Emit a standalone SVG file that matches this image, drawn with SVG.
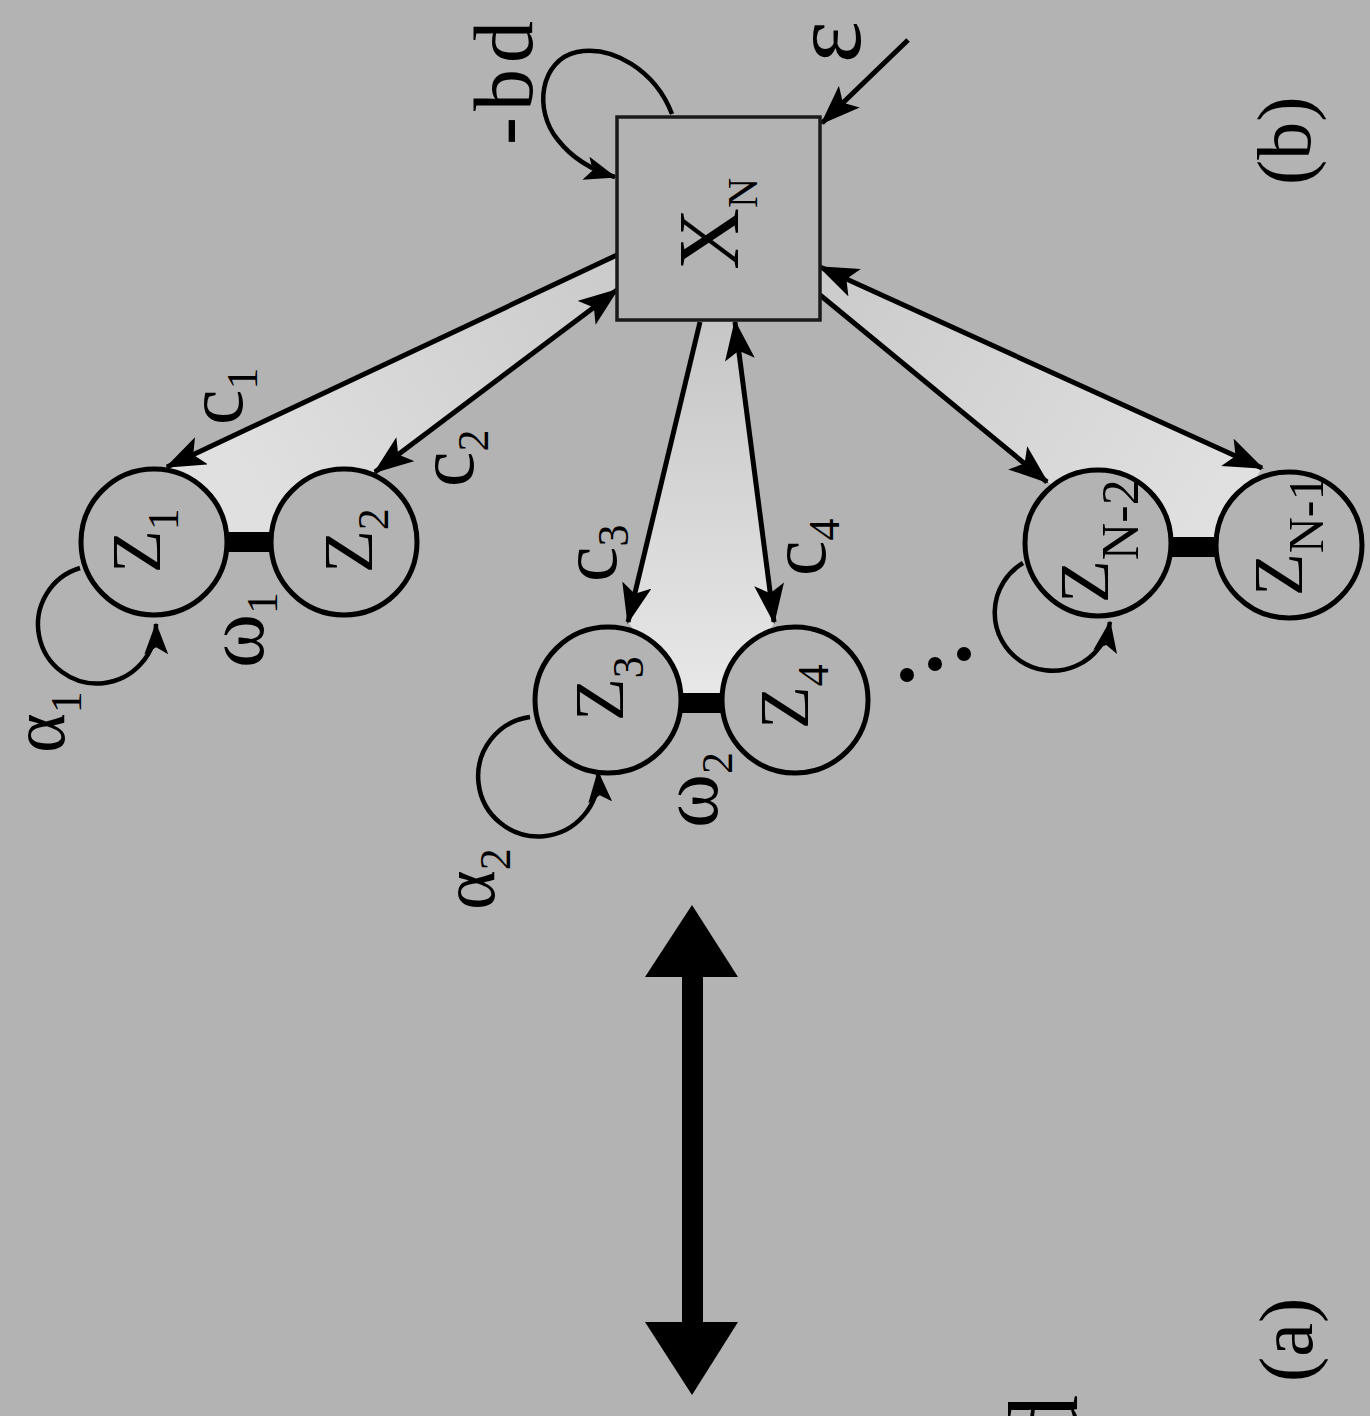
<svg xmlns="http://www.w3.org/2000/svg" width="1370" height="1416" viewBox="0 0 1370 1416">
<style>
.t{font-family:"Liberation Serif","Times New Roman",serif;fill:#000}
.zl{font-size:70px}
.gl{font-size:80px}
.sub{font-size:44px}
.ln{stroke:#000;stroke-width:5;fill:none}
.lp{stroke:#000;stroke-width:4.5;fill:none}
.nd{fill:#b3b3b3;stroke:#000;stroke-width:5}
</style>
<defs>
<marker id="ah" viewBox="0 0 40 30" markerWidth="40" markerHeight="30" refX="38" refY="15" orient="auto-start-reverse" markerUnits="userSpaceOnUse"><path d="M0,0 L40,15 L0,30 L9,15 z" fill="#000"/></marker>
<marker id="ahs" viewBox="0 0 40 30" markerWidth="32" markerHeight="24" refX="38" refY="15" orient="auto" markerUnits="userSpaceOnUse"><path d="M0,0 L40,15 L0,30 L9,15 z" fill="#000"/></marker>
<linearGradient id="g12" gradientUnits="userSpaceOnUse" x1="617" y1="272" x2="260" y2="500"><stop offset="0" stop-color="#cbcbcb"/><stop offset="1" stop-color="#e0e0e0"/></linearGradient>
<linearGradient id="g34" gradientUnits="userSpaceOnUse" x1="0" y1="322" x2="0" y2="700"><stop offset="0" stop-color="#c6c6c6"/><stop offset="1" stop-color="#e8e8e8"/></linearGradient>
<linearGradient id="gN" gradientUnits="userSpaceOnUse" x1="820" y1="281" x2="1200" y2="520"><stop offset="0" stop-color="#cbcbcb"/><stop offset="1" stop-color="#e0e0e0"/></linearGradient>
</defs>
<rect x="0" y="0" width="1370" height="1416" fill="#b3b3b3"/>

<g id="shading">
<polygon points="617,255 167,467 228,532 268,532 375,472 617,290" fill="url(#g12)"/>
<polygon points="700,322 628,622 685,700 720,700 775,622 735,322" fill="url(#g34)"/>
<polygon points="820,295 1047,482 1175,547 1213,547 1262,468 820,267" fill="url(#gN)"/>
</g>

<g id="connectors">
<line class="ln" x1="617" y1="255" x2="167" y2="467" marker-end="url(#ah)"/>
<line class="ln" x1="617" y1="290" x2="375" y2="472" marker-start="url(#ah)" marker-end="url(#ah)"/>
<line class="ln" x1="700" y1="322" x2="628" y2="622" marker-end="url(#ah)"/>
<line class="ln" x1="735" y1="322" x2="774" y2="622" marker-start="url(#ah)" marker-end="url(#ah)"/>
<line class="ln" x1="820" y1="295" x2="1047" y2="482" marker-end="url(#ah)"/>
<line class="ln" x1="820" y1="267" x2="1262" y2="468" marker-start="url(#ah)" marker-end="url(#ah)"/>
<line class="ln" x1="908" y1="40" x2="822" y2="123" marker-end="url(#ah)"/>
<path class="lp" d="M672,114 C655,70 612,45 577,52 C540,60 533,110 558,140 C572,158 592,170 615,177" marker-end="url(#ahs)"/>
<path class="lp" d="M80,568 A59,59 0 1 0 156,624" marker-end="url(#ahs)"/>
<path class="lp" d="M530,717 A60,60 0 1 0 598,772" marker-end="url(#ahs)"/>
<path class="lp" d="M1023,563 A58,58 0 1 0 1110,622" marker-end="url(#ahs)"/>
<rect x="222" y="532" width="50" height="20" fill="#000"/>
<rect x="680" y="693" width="44" height="20" fill="#000"/>
<rect x="1170" y="537" width="48" height="20" fill="#000"/>
</g>

<g id="XN">
<rect x="617" y="117" width="203" height="203" fill="#b3b3b3" stroke="#1a1a1a" stroke-width="3.5"/>
<text class="t" font-size="86" transform="translate(738,270) rotate(-90)">X<tspan font-size="42" dy="19">N</tspan></text>
</g>
<g id="Z1">
<circle class="nd" cx="154" cy="542" r="73"/>
<text class="t zl" transform="translate(160,573) rotate(-90)">Z<tspan class="sub" dy="18">1</tspan></text>
</g>
<g id="Z2">
<circle class="nd" cx="344" cy="542" r="73"/>
<text class="t zl" transform="translate(372,573) rotate(-90)">Z<tspan class="sub" dy="16">2</tspan></text>
</g>
<g id="Z3">
<circle class="nd" cx="608" cy="700" r="73"/>
<text class="t zl" transform="translate(623,721) rotate(-90)">Z<tspan class="sub" dy="20">3</tspan></text>
</g>
<g id="Z4">
<circle class="nd" cx="795" cy="700" r="73"/>
<text class="t zl" transform="translate(808,729) rotate(-90)">Z<tspan class="sub" dy="20">4</tspan></text>
</g>
<g id="ZN-2">
<circle class="nd" cx="1098" cy="543" r="73"/>
<text class="t zl" transform="translate(1108,603) rotate(-90)">Z<tspan font-size="52" dy="30">N-2</tspan></text>
</g>
<g id="ZN-1">
<circle class="nd" cx="1289" cy="545" r="73"/>
<text class="t zl" transform="translate(1302,596) rotate(-90)">Z<tspan font-size="50" dy="21">N-1</tspan></text>
</g>

<g id="dots">
<circle cx="907" cy="675" r="7" fill="#000"/>
<circle cx="935" cy="664" r="7" fill="#000"/>
<circle cx="964" cy="654" r="7" fill="#000"/>
</g>

<g id="labels">
<text class="t gl" transform="translate(242,425) rotate(-90)">c<tspan class="sub" dy="15">1</tspan></text>
<text class="t gl" transform="translate(473,487) rotate(-90)">c<tspan class="sub" dy="15">2</tspan></text>
<text class="t gl" transform="translate(616,582) rotate(-90)">c<tspan class="sub" dy="12">3</tspan></text>
<text class="t gl" transform="translate(825,576) rotate(-90)">c<tspan class="sub" dy="14">4</tspan></text>
<text class="t" font-size="82" transform="translate(263,668) rotate(-90)">ω<tspan class="sub" dy="14">1</tspan></text>
<text class="t" font-size="82" transform="translate(717,828) rotate(-90)">ω<tspan class="sub" dy="15">2</tspan></text>
<text class="t" font-size="76" transform="translate(64,753) rotate(-90)">α<tspan class="sub" dy="17">1</tspan></text>
<text class="t" font-size="76" transform="translate(494,910) rotate(-90)">α<tspan class="sub" dy="16">2</tspan></text>
<text class="t" font-size="100" transform="translate(860,63) rotate(-90)">ε</text>
<text class="t" font-size="84" letter-spacing="6" transform="translate(532,145) rotate(-90)">-bd</text>
<text class="t" font-size="76" transform="translate(1310,185) rotate(-90)">(b)</text>
<text class="t" font-size="76" transform="translate(1312,1382) rotate(-90)">(a)</text>
<text class="t" font-size="100" transform="translate(1077,1445) rotate(-90)">d</text>
</g>

<g id="double-arrow">
<rect x="682" y="970" width="21" height="360" fill="#000"/>
<polygon points="692,905 645,977 738,977" fill="#000"/>
<polygon points="645,1322 738,1322 692,1395" fill="#000"/>
</g>
</svg>
